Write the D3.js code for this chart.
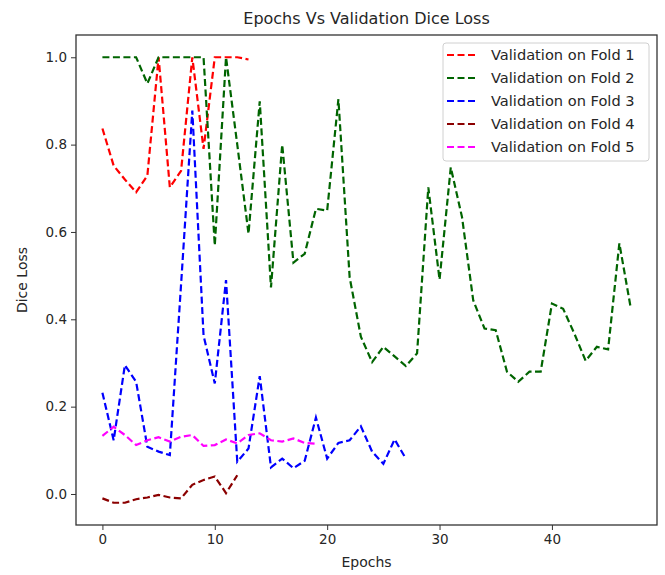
<!DOCTYPE html>
<html>
<head>
<meta charset="utf-8">
<script src="https://cdn.jsdelivr.net/npm/d3@7"></script>
<style>
  body { margin: 0; background: #fff; }
  text { font-family: "DejaVu Sans", sans-serif; fill: #262626; }
</style>
</head>
<body>
<div id="chart"></div>
<script>
// values, one array per fold (epoch = index)
const fold1 = [0.837, 0.752, 0.72, 0.691, 0.729, 1.0, 0.702, 0.74, 1.0, 0.79, 1.0, 1.0, 1.0, 0.995];
const fold2 = [1.0, 1.0, 1.0, 1.0, 0.94, 1.0, 1.0, 1.0, 1.0, 1.0, 0.569, 1.0, 0.80, 0.596, 0.899, 0.473,
               0.80, 0.53, 0.55, 0.653, 0.649, 0.904, 0.496, 0.36, 0.302, 0.337, 0.315, 0.293, 0.322, 0.702,
               0.491, 0.748, 0.634, 0.443, 0.379, 0.375, 0.28, 0.257, 0.28, 0.28, 0.436, 0.424, 0.367, 0.305,
               0.337, 0.331, 0.574, 0.428];
const fold3 = [0.232, 0.123, 0.295, 0.257, 0.108, 0.097, 0.089, 0.48, 0.878, 0.363, 0.253, 0.49, 0.074, 0.104,
               0.27, 0.061, 0.081, 0.059, 0.076, 0.175, 0.081, 0.117, 0.123, 0.155, 0.097, 0.069, 0.125, 0.081];
const fold4 = [-0.01, -0.02, -0.02, -0.012, -0.008, -0.002, -0.008, -0.01, 0.021, 0.032, 0.04, 0.002, 0.043];
const fold5 = [0.133, 0.154, 0.135, 0.112, 0.123, 0.13, 0.12, 0.131, 0.135, 0.11, 0.112, 0.125, 0.116, 0.135,
               0.139, 0.123, 0.12, 0.127, 0.117, 0.115];

const seriesNames = ['Validation on Fold 1', 'Validation on Fold 2', 'Validation on Fold 3',
                     'Validation on Fold 4', 'Validation on Fold 5'];
const seriesValues = [fold1, fold2, fold3, fold4, fold5];
const seriesColors = ['#ff0000', '#006400', '#0000ff', '#8b0000', '#ff00ff'];
const xTicks = [0, 10, 20, 30, 40];
const yTicks = [0.0, 0.2, 0.4, 0.6, 0.8, 1.0];

const W = 665, H = 575;
const margin = {top: 35, right: 8, bottom: 50, left: 76};

let svg = d3.select('#chart').append('svg')
    .attr('width', W)
    .attr('height', H);

// matplotlib style 5% margins around the data
let maxEpoch = d3.max(seriesValues, function (s) { return s.length - 1; });
let allVals = [].concat.apply([], seriesValues);
let yMin = d3.min(allVals), yMax = d3.max(allVals);
let xPad = maxEpoch * 0.05, yPad = (yMax - yMin) * 0.05;

let x = d3.scaleLinear()
    .domain([-xPad, maxEpoch + xPad])
    .range([margin.left, W - margin.right]);
let y = d3.scaleLinear()
    .domain([yMin - yPad, yMax + yPad])
    .range([H - margin.bottom, margin.top]);

let xAxis = svg.append('g')
    .attr('transform', 'translate(0,' + (H - margin.bottom) + ')')
    .call(d3.axisBottom(x).tickValues(xTicks).tickFormat(d3.format('d')).tickSize(5).tickPadding(4));
let yAxis = svg.append('g')
    .attr('transform', 'translate(' + margin.left + ',0)')
    .call(d3.axisLeft(y).tickValues(yTicks).tickFormat(d3.format('.1f')).tickSize(5).tickPadding(4));

[xAxis, yAxis].forEach(function (ax) {
    ax.select('.domain').remove();
    ax.selectAll('line').attr('stroke', '#333');
    ax.selectAll('text').style('font-size', '13.5px').attr('fill', '#262626');
});

// frame
svg.append('rect')
    .attr('x', margin.left)
    .attr('y', margin.top)
    .attr('width', W - margin.right - margin.left)
    .attr('height', H - margin.bottom - margin.top)
    .attr('fill', 'none')
    .attr('stroke', '#333')
    .attr('stroke-width', 1.3);

let line = d3.line()
    .x(function (d, i) { return x(i); })
    .y(function (d) { return y(d); });

seriesValues.forEach(function (vals, idx) {
    svg.append('path')
        .datum(vals)
        .attr('d', line)
        .attr('fill', 'none')
        .attr('stroke', seriesColors[idx])
        .attr('stroke-width', 2.2)
        .attr('stroke-dasharray', '7,3.5');
});

// legend
let lg = svg.append('g').attr('transform', 'translate(443,43)');
lg.append('rect')
    .attr('width', 206)
    .attr('height', 118)
    .attr('rx', 3)
    .attr('fill', '#fff')
    .attr('fill-opacity', 0.8)
    .attr('stroke', '#d0d0d0');
seriesNames.forEach(function (name, idx) {
    let ty = 12 + idx * 23;
    lg.append('line')
        .attr('x1', 4).attr('x2', 35)
        .attr('y1', ty).attr('y2', ty)
        .attr('stroke', seriesColors[idx])
        .attr('stroke-width', 2.2)
        .attr('stroke-dasharray', '7,3.5');
    lg.append('text')
        .attr('x', 48)
        .attr('y', ty)
        .attr('dy', '0.35em')
        .style('font-size', '14.6px')
        .text(name);
});

svg.append('text')
    .attr('x', (margin.left + W - margin.right) / 2)
    .attr('y', 24)
    .attr('text-anchor', 'middle')
    .style('font-size', '16px')
    .text('Epochs Vs Validation Dice Loss');

svg.append('text')
    .attr('x', (margin.left + W - margin.right) / 2)
    .attr('y', 567)
    .attr('text-anchor', 'middle')
    .style('font-size', '14px')
    .text('Epochs');

svg.append('text')
    .attr('transform', 'translate(27,' + ((margin.top + H - margin.bottom) / 2) + ') rotate(-90)')
    .attr('text-anchor', 'middle')
    .style('font-size', '14px')
    .text('Dice Loss');
</script>
</body>
</html>
